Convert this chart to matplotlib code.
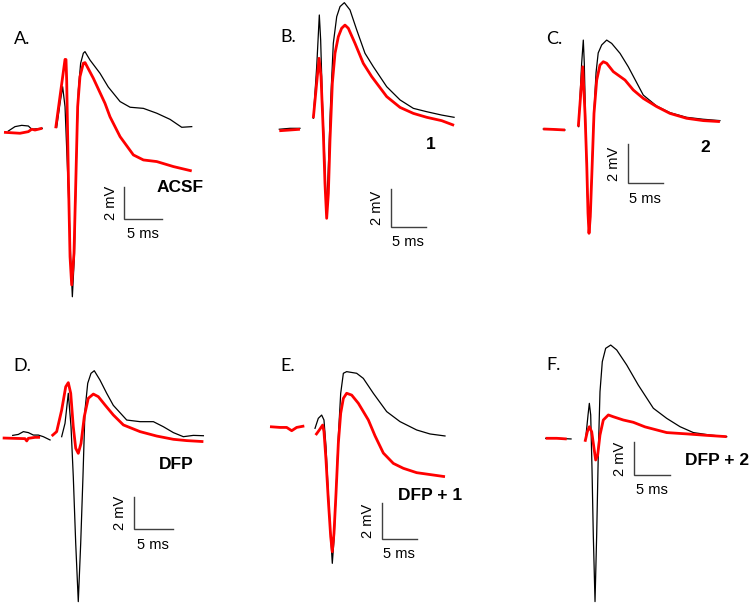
import numpy as np
import matplotlib
matplotlib.use("Agg")
import matplotlib.pyplot as plt

nan = float("nan")

# ---------------- data (time in ms, voltage in mV) ----------------
# Panel A  (ACSF)
A_black_t = [0.58, 1.47, 2.37, 3.26, 3.71, 5.13, nan,
             7.05, 7.50, 7.85, 8.17, 8.61, 8.92, 9.15, 9.42, 9.64, 9.95, 10.26, 10.62, 10.84, 11.51, 12.85, 13.96,
             15.54, 16.88, 18.66, 20.45, 22.23, 23.79, 25.13]
A_black_v = [0.08, 0.35, 0.43, 0.39, 0.19, 0.25, nan,
             0.31, 1.79, 2.82, 1.58, -3.57, -7.69, -10.17, -7.69, -2.54, 2.62, 4.27, 4.89, 4.99, 4.47, 3.65, 2.80,
             1.90, 1.55, 1.48, 1.18, 0.80, 0.31, 0.35]
A_red_t = [0.0, 2.14, 3.26, 3.71, 4.15, 5.13, nan,
           6.92, 7.55, 8.17, 8.30, 8.39, 8.61, 8.84, 9.06, 9.37, 9.64, 9.86, 10.17, 10.62, 10.85, 11.96, 13.52,
           14.19, 15.54, 17.32, 18.66, 20.45, 22.68, 25.13]
A_red_v = [0.0, -0.06, 0.04, 0.19, 0.14, 0.25, nan,
           0.25, 2.40, 4.51, 4.50, 3.23, -2.54, -7.69, -9.44, -7.48, -2.54, 1.58, 3.44, 4.27, 4.31, 3.34, 1.79,
           0.96, -0.27, -1.40, -1.71, -1.81, -2.12, -2.39]

# Panel B  (compound 1)
B_black_t = [0.0, 1.51, 2.92, nan,
             4.81, 5.29, 5.66, 5.85, 6.09, 6.37, 6.61, 6.75, 6.94, 7.27, 7.64, 8.12, 8.59, 9.20, 10.0, 10.95, 12.12,
             13.30, 15.19, 17.08, 18.96, 20.85, 22.97, 24.72]
B_black_v = [0.04, 0.09, 0.09, nan,
             0.63, 3.39, 6.16, 4.82, 1.61, -1.07, -3.75, -3.84, -1.96, 1.61, 4.64, 6.07, 6.61, 6.82, 6.43, 5.36, 4.11,
             3.39, 2.32, 1.61, 1.16, 0.98, 0.80, 0.68]
B_red_t = [0.0, 1.51, 2.92, nan,
           4.81, 5.62, 5.90, 6.23, 6.46, 6.70, 6.94, 7.17, 7.50, 7.88, 8.35, 8.82, 9.29, 9.76, 10.71, 11.88, 13.07,
           15.19, 17.08, 18.96, 20.85, 22.97, 24.72]
B_red_v = [-0.04, 0.0, 0.04, nan,
           0.63, 3.84, 2.86, -0.18, -2.86, -4.73, -3.39, -0.54, 2.50, 4.11, 5.00, 5.45, 5.62, 5.45, 4.64, 3.57, 2.86,
           1.79, 1.21, 0.89, 0.68, 0.50, 0.25]

# Panel C  (compound 2)
C_black_t = [0.0, 1.40, 3.04, nan,
             4.95, 5.38, 5.61, 5.75, 5.95, 6.15, 6.38, 6.60, 6.85, 7.11, 7.40, 7.70, 8.19, 8.89, 9.59, 10.76, 11.92,
             14.02, 15.89, 17.76, 20.09, 22.43, 24.77]
C_black_v = [0.0, -0.02, -0.05, nan,
             0.12, 3.37, 4.56, 3.37, 0.0, -3.00, -5.10, -4.40, -1.80, 0.90, 2.90, 3.90, 4.31, 4.56, 4.39, 3.88, 3.19,
             1.74, 1.18, 0.84, 0.60, 0.50, 0.43]
C_red_t = [0.0, 1.40, 3.04, nan,
           4.91, 5.53, 5.85, 6.09, 6.27, 6.41, 6.59, 6.83, 7.11, 7.49, 7.95, 8.41, 8.89, 9.82, 11.46, 12.62, 14.02,
           15.89, 17.76, 20.09, 22.43, 24.77]
C_red_v = [0.0, -0.02, -0.05, nan,
           0.12, 3.19, 0.80, -1.76, -4.32, -5.35, -4.50, -2.10, 0.80, 2.51, 3.28, 3.45, 3.37, 2.94, 2.51, 2.00, 1.57,
           1.15, 0.80, 0.55, 0.43, 0.38]

# Panel D  (DFP)
D_black_t = [1.28, 2.01, 2.65, 3.29, 3.93, 4.57, 5.21, 6.07, nan,
             7.56, 7.99, 8.41, 8.76, 9.05, 9.36, 9.69, 10.00, 10.29, 10.55, 10.90, 11.32, 11.74, 12.47, 13.33, 14.18,
             15.90, 17.61, 19.32, 20.60, 21.88, 23.16, 24.44, 25.73]
D_black_v = [0.16, 0.22, 0.39, 0.33, 0.18, 0.18, 0.08, -0.12, nan,
             0.08, 0.90, 2.74, 0.69, -2.37, -6.45, -10.02, -6.45, -2.37, 1.71, 3.35, 3.96, 4.12, 3.55, 2.74, 2.00,
             1.10, 1.00, 1.00, 0.69, 0.33, 0.08, 0.16, 0.14]
D_red_t = [0.0, 1.37, 2.86, 3.08, 3.29, 4.15, 4.79, nan,
           6.28, 6.92, 7.56, 8.08, 8.41, 8.72, 9.05, 9.36, 9.69, 10.04, 10.46, 10.97, 11.62, 12.26, 13.12, 14.18,
           15.47, 17.61, 19.74, 21.88, 23.59, 25.73]
D_red_v = [0.0, -0.02, -0.04, -0.18, -0.02, 0.04, 0.04, nan,
           0.12, 0.39, 1.71, 3.14, 3.39, 2.74, 0.69, -0.63, -0.94, -0.33, 1.31, 2.43, 2.69, 2.53, 2.02, 1.41,
           0.80, 0.39, 0.12, -0.08, -0.16, -0.22]

# Panel E  (DFP + 1)
E_black_t = [6.43, 6.90, 7.38, 7.71, 8.00, 8.33, 8.67, 8.90, 9.14, 9.43, 9.76, 10.10, 10.48, 10.95, 12.38, 13.33,
             14.76, 16.67, 18.57, 20.95, 22.86, 25.0]
E_black_v = [-0.09, 0.46, 0.64, 0.37, -1.10, -3.67, -6.05, -7.52, -6.24, -3.67, -0.55, 1.84, 2.94, 3.03, 2.94, 2.66,
             1.84, 0.83, 0.28, -0.18, -0.40, -0.51]
E_red_t = [0.0, 1.43, 2.38, 3.10, 3.81, 4.90, nan,
           6.52, 7.05, 7.52, 7.71, 8.00, 8.33, 8.67, 8.90, 9.14, 9.43, 9.76, 10.10, 10.48, 10.95, 11.67, 12.62, 14.05,
           15.00, 16.19, 17.62, 19.05, 20.95, 25.0]
E_red_v = [0.0, -0.04, -0.04, -0.22, -0.04, 0.04, nan,
           -0.46, -0.18, 0.09, -0.27, -1.83, -4.03, -6.05, -6.88, -5.87, -3.67, -0.92, 0.74, 1.56, 1.84, 1.74, 1.29,
           0.37, -0.50, -1.45, -2.02, -2.29, -2.53, -2.75]

# Panel F  (DFP + 2)
F_black_t = [0.0, 1.53, 3.52, nan,
             5.60, 5.88, 6.06, 6.25, 6.43, 6.61, 6.85, 7.08, 7.31, 7.54, 7.86, 8.33, 9.03, 9.86, 11.25, 12.86, 14.95,
             16.81, 18.66, 20.51, 22.82, 25.14]
F_black_v = [0.0, 0.0, -0.04, nan,
             0.20, 1.43, 2.14, 1.43, -1.84, -5.92, -10.00, -5.92, -0.82, 2.85, 4.69, 5.51, 5.71, 5.41, 4.49, 3.26, 1.84,
             1.22, 0.71, 0.35, 0.20, 0.10]
F_red_t = [0.0, 1.53, 2.92, nan,
           5.46, 5.78, 6.06, 6.39, 6.71, 6.94, 7.22, 7.54, 8.00, 8.70, 9.39, 10.78, 12.17, 13.79, 16.81, 19.58, 22.36,
           25.14]
F_red_v = [0.0, 0.0, -0.04, nan,
           -0.21, 0.40, 0.71, 0.40, -0.61, -1.33, -1.02, 0.20, 1.12, 1.43, 1.32, 1.12, 0.98, 0.70, 0.35, 0.27, 0.18,
           0.10]

panel_letters = ["A.", "B.", "C.", "D.", "E.", "F."]
conditions = ["ACSF", "1", "2", "DFP", "DFP + 1", "DFP + 2"]
scale_ms = 5
scale_mV = 2

traces = [
    (A_black_t, A_black_v, A_red_t, A_red_v),
    (B_black_t, B_black_v, B_red_t, B_red_v),
    (C_black_t, C_black_v, C_red_t, C_red_v),
    (D_black_t, D_black_v, D_red_t, D_red_v),
    (E_black_t, E_black_v, E_red_t, E_red_v),
    (F_black_t, F_black_v, F_red_t, F_red_v),
]

# ---------------- layout (pixels) ----------------
W, H = 750, 609
# origin pixel (t=0, v=0), px per ms, px per mV
layout = [
    (4.0, 132.3, 7.47, 16.17),
    (279.3, 130.0, 7.07, 18.67),
    (543.3, 129.0, 7.13, 19.50),
    (2.7, 438.0, 7.80, 16.33),
    (270.0, 426.7, 7.00, 18.17),
    (545.7, 438.3, 7.20, 16.33),
]
# scale bar corner (ms, mV) and condition label anchor (ms, mV), label ha
bar_corner = [(16.12, -5.36), (15.75, -5.18), (11.82, -2.79), (16.79, -5.59), (15.95, -6.18), (12.31, -2.24)]
cond_pos = [(20.49, -3.42, "left"), (21.37, -0.75, "center"), (22.76, -0.96, "center"),
            (19.96, -1.61, "left"), (18.33, -3.76, "left"), (19.35, -1.33, "left")]
letter_px = [(14, 39), (280, 37), (546, 39), (13, 366), (280, 366), (546, 365)]

fig = plt.figure(figsize=(W / 100, H / 100), dpi=100)
fig.patch.set_facecolor("white")

cell_w, cell_h = 250, H / 2
bar_color = "#404040"
for i in range(6):
    r, c = divmod(i, 3)
    cx0, cy0 = c * cell_w, r * cell_h
    cx1, cy1 = cx0 + cell_w, cy0 + cell_h
    ox, oy, pms, pmv = layout[i]
    ax = fig.add_axes([cx0 / W, 1 - cy1 / H, cell_w / W, cell_h / H])
    ax.set_xlim((cx0 - ox) / pms, (cx1 - ox) / pms)
    ax.set_ylim((oy - cy1) / pmv, (oy - cy0) / pmv)
    ax.axis("off")
    bt, bv, rt, rv = traces[i]
    ax.plot(np.array(bt, float), np.array(bv, float), color="black", lw=0.9,
            solid_joinstyle="round", clip_on=False, zorder=2)
    ax.plot(np.array(rt, float), np.array(rv, float), color="#ff0000", lw=2.0,
            solid_joinstyle="round", solid_capstyle="butt", clip_on=False, zorder=3)
    # scale bars
    bx, by = bar_corner[i]
    ax.plot([bx, bx, bx + scale_ms], [by + scale_mV, by, by], color=bar_color, lw=1.0,
            solid_joinstyle="miter", zorder=1)
    ax.annotate(f"{scale_mV} mV", (bx, by + scale_mV / 2), xytext=(-10, 0), textcoords="offset points",
                rotation=90, ha="center", va="center", fontsize=10.5, family="Liberation Sans")
    ax.annotate(f"{scale_ms} ms", (bx + scale_ms / 2, by), xytext=(0, -11), textcoords="offset points",
                ha="center", va="center", fontsize=10.5, family="Liberation Sans")
    tx, ty, ha = cond_pos[i]
    ax.text(tx, ty, conditions[i], ha=ha, va="center", fontsize=12.5, fontweight="bold",
            family="Liberation Sans")
    lx, ly = letter_px[i]
    fig.text(lx / W, 1 - ly / H, panel_letters[i], ha="left", va="center", fontsize=13, family="Lato")

fig.savefig("out.png", dpi=100, facecolor="white")
